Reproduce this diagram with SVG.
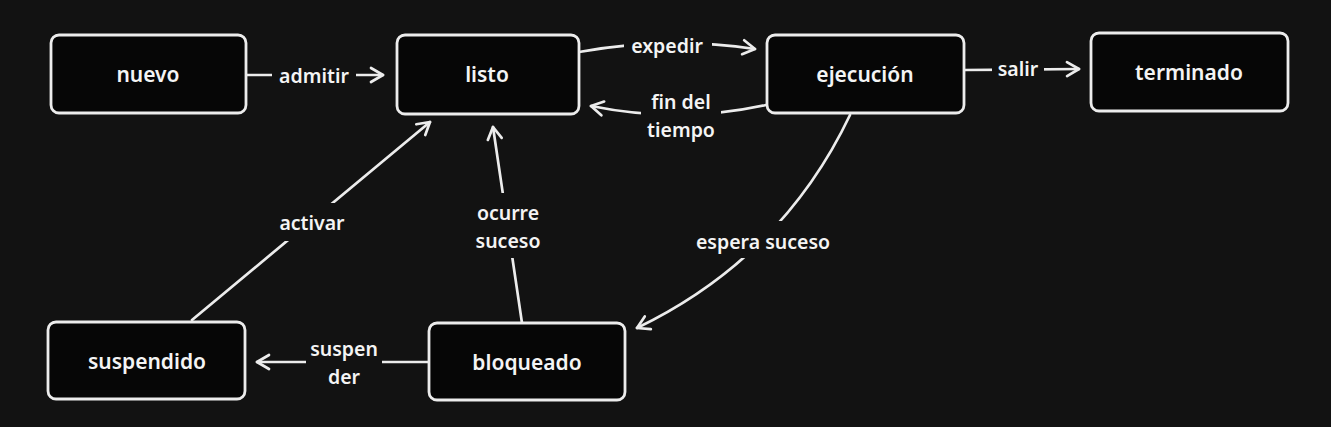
<svg xmlns="http://www.w3.org/2000/svg" width="1331" height="427" viewBox="0 0 1331 427">
<defs>
<style>
.node rect{fill:#060606;stroke:#ececec;stroke-width:2.8}
text{font-family:"Noto Sans","Open Sans",sans-serif;font-weight:600;fill:#f4f4f4;text-anchor:middle;dominant-baseline:central}
.n{font-size:21px}
.l{font-size:19.5px}
.c path{fill:none;stroke:#ececec;stroke-width:2.7;stroke-linecap:round;stroke-linejoin:round}
</style>
<marker id="ah" viewBox="0 0 20 20" refX="16" refY="10" markerWidth="20" markerHeight="20" markerUnits="userSpaceOnUse" orient="auto">
<path d="M4 3 L16 10 L4 17" fill="none" stroke="#ececec" stroke-width="2.7" stroke-linecap="round" stroke-linejoin="round"/>
</marker>
<mask id="gap" maskUnits="userSpaceOnUse" x="0" y="0" width="1331" height="427">
<rect x="0" y="0" width="1331" height="427" fill="#fff"/>
<rect x="272" y="60" width="84" height="30" fill="#000"/>
<rect x="624" y="30" width="88" height="30" fill="#000"/>
<rect x="641" y="86" width="80" height="58" fill="#000"/>
<rect x="992" y="54" width="52" height="30" fill="#000"/>
<rect x="272" y="203" width="80" height="38" fill="#000"/>
<rect x="470" y="193" width="76" height="65" fill="#000"/>
<rect x="684" y="221" width="158" height="37" fill="#000"/>
<rect x="306" y="333" width="76" height="58" fill="#000"/>
</mask>
</defs>
<rect width="1331" height="427" fill="#121212"/>
<g class="c" id="connectors" mask="url(#gap)">
<path d="M246 75 L383 75" marker-end="url(#ah)"/>
<path d="M579 52 Q668 36 755 49" marker-end="url(#ah)"/>
<path d="M766 105 Q680 124 591 106" marker-end="url(#ah)"/>
<path d="M964 70 L1079 69" marker-end="url(#ah)"/>
<path d="M192 320 L430 122" marker-end="url(#ah)"/>
<path d="M522 323 L493 127" marker-end="url(#ah)"/>
<path d="M850 115 Q782 258 637 328" marker-end="url(#ah)"/>
<path d="M429 362 L257 362" marker-end="url(#ah)"/>
</g>
<g id="labels">
<text class="l" x="314" y="75">admitir</text>
<text class="l" x="667" y="45">expedir</text>
<text class="l" x="681" y="101">fin del</text>
<text class="l" x="681" y="129">tiempo</text>
<text class="l" x="1018" y="68">salir</text>
<text class="l" x="312" y="222">activar</text>
<text class="l" x="508" y="212">ocurre</text>
<text class="l" x="508" y="240">suceso</text>
<text class="l" x="763" y="241">espera suceso</text>
<text class="l" x="344" y="348">suspen</text>
<text class="l" x="344" y="376">der</text>
</g>
<g class="node" id="nuevo"><rect x="51" y="35" width="195" height="78" rx="8"/><text class="n" x="148" y="74">nuevo</text></g>
<g class="node" id="listo"><rect x="397" y="35" width="182" height="79" rx="8"/><text class="n" x="487" y="74">listo</text></g>
<g class="node" id="ejecucion"><rect x="767" y="35" width="197" height="78" rx="8"/><text class="n" x="865" y="74">ejecución</text></g>
<g class="node" id="terminado"><rect x="1091" y="33" width="197" height="78" rx="8"/><text class="n" x="1189" y="72">terminado</text></g>
<g class="node" id="suspendido"><rect x="48" y="322" width="197" height="77" rx="8"/><text class="n" x="147" y="361">suspendido</text></g>
<g class="node" id="bloqueado"><rect x="429" y="323" width="196" height="77" rx="8"/><text class="n" x="527" y="362">bloqueado</text></g>
</svg>
